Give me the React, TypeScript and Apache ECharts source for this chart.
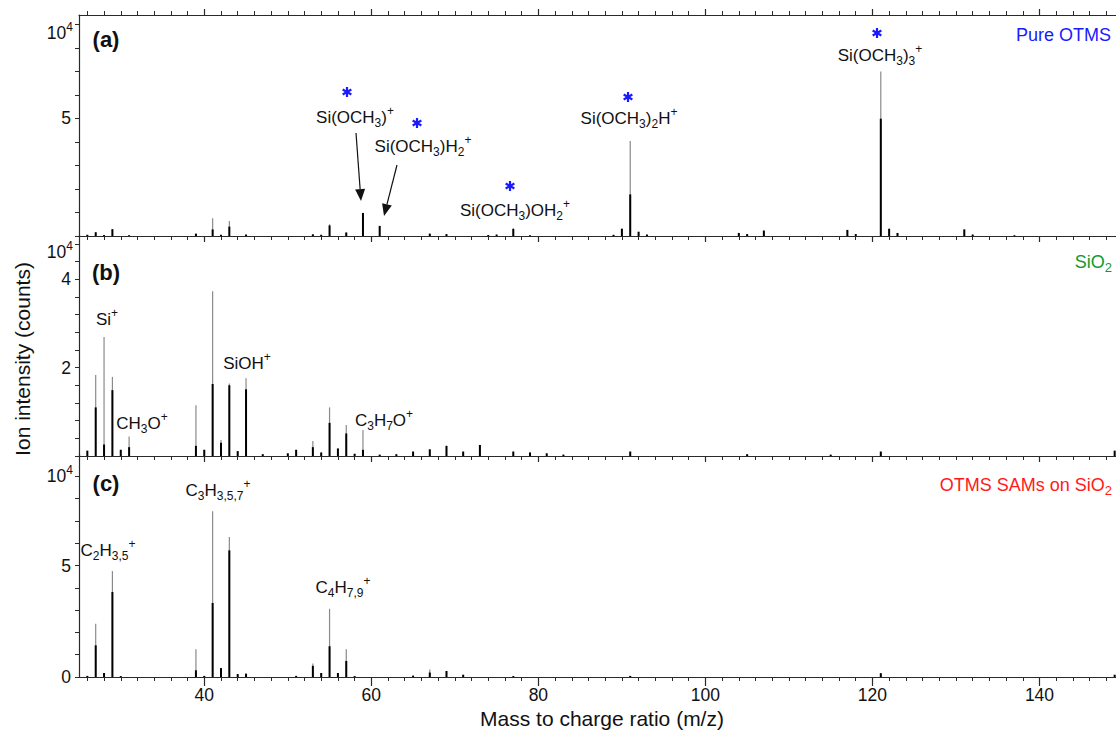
import React, { useEffect, useRef } from 'react';
import * as echarts from 'echarts';

const FONT = "'Liberation Sans', Arial, Helvetica, sans-serif";

// ---------- data (m/z, envelope height, core height) in axis units ----------
const mzA = [26, 27, 28, 29, 31, 39, 41, 42, 43, 45, 53, 54, 55, 57, 59, 61, 67, 69, 74, 75, 77, 79, 89, 90, 91, 92, 93, 104, 105, 107, 117, 118, 121, 122, 123, 131, 132, 137];
const greyA = [0.05, 0.16, 0.04, 0.29, 0.03, 0.1, 0.75, 0.05, 0.64, 0.06, 0.07, 0.05, 0.5, 0.15, 0.98, 0.43, 0.1, 0.08, 0.04, 0.06, 0.34, 0.03, 0.05, 0.31, 4.04, 0.18, 0.06, 0.13, 0.08, 0.23, 0.26, 0.08, 7.0, 0.34, 0.13, 0.28, 0.06, 0.03];
const blackA = [0.05, 0.16, 0.04, 0.29, 0.03, 0.1, 0.28, 0.05, 0.4, 0.06, 0.07, 0.05, 0.45, 0.15, 0.98, 0.43, 0.1, 0.08, 0.04, 0.06, 0.3, 0.03, 0.05, 0.31, 1.77, 0.18, 0.06, 0.13, 0.08, 0.23, 0.26, 0.08, 4.99, 0.3, 0.13, 0.28, 0.06, 0.03];

const mzB = [26, 27, 28, 29, 30, 31, 39, 40, 41, 42, 43, 44, 45, 47, 50, 51, 53, 54, 55, 56, 57, 58, 59, 61, 63, 65, 67, 69, 71, 73, 77, 79, 81, 83, 91, 105, 115, 121, 149];
const greyB = [0.12, 1.83, 2.69, 1.79, 0.14, 0.44, 1.15, 0.14, 3.73, 0.36, 1.64, 0.11, 1.76, 0.04, 0.06, 0.14, 0.34, 0.08, 1.1, 0.17, 0.7, 0.05, 0.59, 0.03, 0.04, 0.1, 0.15, 0.23, 0.1, 0.25, 0.1, 0.08, 0.06, 0.03, 0.1, 0.04, 0.03, 0.1, 0.12];
const blackB = [0.12, 1.1, 0.26, 1.49, 0.14, 0.2, 0.23, 0.14, 1.63, 0.3, 1.6, 0.11, 1.51, 0.04, 0.06, 0.14, 0.2, 0.08, 0.75, 0.17, 0.51, 0.05, 0.14, 0.03, 0.04, 0.1, 0.15, 0.23, 0.1, 0.25, 0.1, 0.08, 0.06, 0.03, 0.1, 0.04, 0.03, 0.1, 0.12];

const mzC = [26, 27, 28, 29, 30, 39, 40, 41, 42, 43, 44, 45, 51, 53, 54, 55, 56, 57, 58, 65, 67, 69, 71, 77, 91, 121, 149];
const greyC = [0.05, 2.39, 0.18, 4.75, 0.04, 1.24, 0.05, 7.43, 0.4, 6.28, 0.13, 0.15, 0.05, 0.6, 0.18, 3.06, 0.18, 1.24, 0.04, 0.06, 0.34, 0.27, 0.1, 0.04, 0.05, 0.17, 0.1];
const blackC = [0.05, 1.42, 0.18, 3.81, 0.04, 0.3, 0.05, 3.32, 0.4, 5.68, 0.13, 0.15, 0.05, 0.5, 0.18, 1.38, 0.18, 0.72, 0.04, 0.06, 0.2, 0.27, 0.1, 0.04, 0.05, 0.17, 0.1];

// ---------- axes ----------
const X_MIN = 25;
const X_MAX = 150;
const xMajor = [40, 60, 80, 100, 120, 140];
const xMinor: number[] = [];
for (let v = 26; v <= 150; v += 2) xMinor.push(v);

const yMaxA = 9.4;
const yMaxB = 5;
const yMaxC = 10;
const yTicksA = [0, 1, 2, 3, 4, 5, 6, 7, 8, 9];
const yLabelsA = [5];
const yTicksB = [0, 0.4, 0.8, 1.2, 1.6, 2, 2.4, 2.8, 3.2, 3.6, 4, 4.4, 4.8];
const yLabelsB = [2, 4];
const yTicksC = [0, 1, 2, 3, 4, 5, 6, 7, 8, 9];
const yLabelsC = [0, 5];

const AXIS_COLOR = '#2a2a2a';
const BLUE = '#1a1aff';

function toPairs(mz: number[], vals: number[]) {
  return mz.map((m, i) => [m, vals[i]]);
}

function stick(color: string, width: number) {
  return (params: any, api: any) => {
    const x = api.value(0);
    const y = api.value(1);
    const p0 = api.coord([x, 0]);
    const p1 = api.coord([x, y]);
    return {
      type: 'line',
      shape: { x1: p0[0], y1: p0[1], x2: p1[0], y2: p1[1] },
      style: { stroke: color, lineWidth: width },
    };
  };
}

const richBase = (color: string, size = 17) => ({
  n: { fontSize: size, fontFamily: FONT, fill: color, lineHeight: 24 },
  b: { fontSize: Math.round(size * 0.7), fontFamily: FONT, fill: color, verticalAlign: 'bottom' },
  p: { fontSize: Math.round(size * 0.7), fontFamily: FONT, fill: color, verticalAlign: 'top', lineHeight: 20 },
  e: { fontSize: Math.round(size * 0.7), fontFamily: FONT, fill: color, verticalAlign: 'top', lineHeight: 12 },
});

function formula(text: string, x: number, y: number, color = '#111', align = 'center', size = 17) {
  return {
    type: 'text',
    x,
    y,
    silent: true,
    style: {
      text,
      align,
      verticalAlign: 'middle',
      fill: color,
      font: `${size}px ${FONT}`,
      rich: richBase(color, size),
    },
  };
}

function plain(text: string, x: number, y: number, opts: any = {}) {
  return {
    type: 'text',
    x,
    y,
    rotation: opts.rotation || 0,
    silent: true,
    style: {
      text,
      align: opts.align || 'center',
      verticalAlign: 'middle',
      fill: opts.color || '#111',
      font: `${opts.weight || 'normal'} ${opts.size || 17}px ${FONT}`,
    },
  };
}

// six-armed asterisk marker
function star(x: number, y: number) {
  const r = 5;
  const lines = [0, 60, 120].map((deg) => {
    const a = (deg * Math.PI) / 180;
    const dx = Math.sin(a) * r;
    const dy = Math.cos(a) * r;
    return {
      type: 'line',
      silent: true,
      shape: { x1: -dx, y1: -dy, x2: dx, y2: dy },
      style: { stroke: BLUE, lineWidth: 2.2 },
    };
  });
  return { type: 'group', x, y, silent: true, children: lines };
}

function arrow(x0: number, y0: number, x1: number, y1: number) {
  const dx = x1 - x0;
  const dy = y1 - y0;
  const len = Math.sqrt(dx * dx + dy * dy);
  const ux = dx / len;
  const uy = dy / len;
  const hl = 12;
  const hw = 5;
  const bx = x1 - ux * hl;
  const by = y1 - uy * hl;
  return [
    { type: 'line', silent: true, shape: { x1: x0, y1: y0, x2: bx, y2: by }, style: { stroke: '#111', lineWidth: 1.2 } },
    {
      type: 'polygon',
      silent: true,
      shape: { points: [[x1, y1], [bx - uy * hw, by + ux * hw], [bx + uy * hw, by - ux * hw]] },
      style: { fill: '#111' },
    },
  ];
}

function xAxes(gridIndex: number, showLabels: boolean, majorLen: number, withTop: boolean) {
  const base = {
    gridIndex,
    type: 'value',
    min: X_MIN,
    max: X_MAX,
    splitLine: { show: false },
  };
  const res: any[] = [
    {
      ...base,
      position: 'bottom',
      axisLine: { show: true, onZero: false, lineStyle: { color: AXIS_COLOR, width: 1.2 } },
      axisTick: { show: true, customValues: xMajor, length: majorLen, lineStyle: { color: AXIS_COLOR, width: 1.2 } },
      axisLabel: {
        show: showLabels,
        customValues: xMajor,
        margin: 9,
        fontSize: 17.5,
        fontFamily: FONT,
        color: '#111',
      },
    },
    {
      ...base,
      position: 'bottom',
      axisLine: { show: false, onZero: false },
      axisTick: { show: true, customValues: xMinor, length: 4, lineStyle: { color: AXIS_COLOR, width: 1 } },
      axisLabel: { show: false },
    },
  ];
  if (withTop) {
    res.push(
      {
        ...base,
        position: 'top',
        axisLine: { show: true, onZero: false, lineStyle: { color: AXIS_COLOR, width: 1.2 } },
        axisTick: { show: true, customValues: xMajor, length: 6, lineStyle: { color: AXIS_COLOR, width: 1.2 } },
        axisLabel: { show: false },
      },
      {
        ...base,
        position: 'top',
        axisLine: { show: false, onZero: false },
        axisTick: { show: true, customValues: xMinor, length: 4, lineStyle: { color: AXIS_COLOR, width: 1 } },
        axisLabel: { show: false },
      }
    );
  }
  return res;
}

function yAxis(gridIndex: number, max: number, ticks: number[], labels: number[]) {
  return {
    gridIndex,
    type: 'value',
    min: 0,
    max,
    splitLine: { show: false },
    axisLine: { show: true, onZero: false, lineStyle: { color: AXIS_COLOR, width: 1.2 } },
    axisTick: { show: true, customValues: ticks, length: 4, lineStyle: { color: AXIS_COLOR, width: 1 } },
    axisLabel: {
      show: true,
      customValues: labels,
      margin: 8,
      fontSize: 17.5,
      fontFamily: FONT,
      color: '#111',
    },
  };
}

export default function App() {
  const ref = useRef<HTMLDivElement>(null);

  useEffect(() => {
    if (!ref.current) return;
    const chart = echarts.init(ref.current, null, { renderer: 'svg' });

    const graphics: any[] = [
      // panel tags
      plain('(a)', 106, 39, { size: 22, weight: 'bold' }),
      plain('(b)', 106, 272, { size: 22, weight: 'bold' }),
      plain('(c)', 106, 483, { size: 22, weight: 'bold' }),
      // exponent labels
      formula('{n|10}{e|4}', 73, 33, '#111', 'right', 17.5),
      formula('{n|10}{e|4}', 73, 252, '#111', 'right', 17.5),
      formula('{n|10}{e|4}', 73, 476, '#111', 'right', 17.5),
      // sample names
      plain('Pure OTMS', 1111, 35, { color: BLUE, size: 18, align: 'right' }),
      formula('{n|SiO}{b|2}', 1112, 262, '#12992e', 'right', 18),
      formula('{n|OTMS SAMs on SiO}{b|2}', 1112, 485, '#ff1a1a', 'right', 18),
      // panel (a) annotations
      star(347, 92),
      star(417, 123),
      star(510, 186),
      star(628, 97),
      star(877, 33),
      formula('{n|Si(OCH}{b|3}{n|)}{p|+}', 355, 117),
      formula('{n|Si(OCH}{b|3}{n|)H}{b|2}{p|+}', 423, 146),
      formula('{n|Si(OCH}{b|3}{n|)OH}{b|2}{p|+}', 515, 210),
      formula('{n|Si(OCH}{b|3}{n|)}{b|2}{n|H}{p|+}', 629, 118),
      formula('{n|Si(OCH}{b|3}{n|)}{b|3}{p|+}', 880, 55),
      ...arrow(356, 133, 361, 201),
      ...arrow(397, 165, 384, 216),
      // panel (b) annotations
      formula('{n|Si}{p|+}', 107, 319),
      formula('{n|CH}{b|3}{n|O}{p|+}', 142, 423),
      formula('{n|SiOH}{p|+}', 247, 363),
      formula('{n|C}{b|3}{n|H}{b|7}{n|O}{p|+}', 384, 420),
      // panel (c) annotations
      formula('{n|C}{b|3}{n|H}{b|3,5,7}{p|+}', 218, 490),
      formula('{n|C}{b|2}{n|H}{b|3,5}{p|+}', 108, 550),
      formula('{n|C}{b|4}{n|H}{b|7,9}{p|+}', 343, 587),
      // axis titles
      plain('Mass to charge ratio (m/z)', 602, 718, { size: 21 }),
      plain('Ion intensity (counts)', 22, 359, { size: 21, rotation: Math.PI / 2 }),
    ];

    const option: any = {
      animation: false,
      backgroundColor: '#ffffff',
      grid: [
        { left: 79, top: 15, width: 1044, height: 221 },
        { left: 79, top: 235, width: 1044, height: 221 },
        { left: 79, top: 454, width: 1044, height: 223 },
      ],
      xAxis: [
        ...xAxes(0, false, 6, true), // 0..3
        ...xAxes(1, false, 6, false), // 4,5
        ...xAxes(2, true, 9, false), // 6,7
      ],
      yAxis: [
        yAxis(0, yMaxA, yTicksA, yLabelsA),
        yAxis(1, yMaxB, yTicksB, yLabelsB),
        yAxis(2, yMaxC, yTicksC, yLabelsC),
      ],
      series: [
        { type: 'custom', name: 'Pure OTMS env', xAxisIndex: 0, yAxisIndex: 0, encode: { x: 0, y: 1 }, renderItem: stick('#8a8a8a', 1.2), data: toPairs(mzA, greyA) },
        { type: 'custom', name: 'Pure OTMS', xAxisIndex: 0, yAxisIndex: 0, encode: { x: 0, y: 1 }, renderItem: stick('#000000', 2), data: toPairs(mzA, blackA) },
        { type: 'custom', name: 'SiO2 env', xAxisIndex: 4, yAxisIndex: 1, encode: { x: 0, y: 1 }, renderItem: stick('#8a8a8a', 1.2), data: toPairs(mzB, greyB) },
        { type: 'custom', name: 'SiO2', xAxisIndex: 4, yAxisIndex: 1, encode: { x: 0, y: 1 }, renderItem: stick('#000000', 2), data: toPairs(mzB, blackB) },
        { type: 'custom', name: 'SAM env', xAxisIndex: 6, yAxisIndex: 2, encode: { x: 0, y: 1 }, renderItem: stick('#8a8a8a', 1.2), data: toPairs(mzC, greyC) },
        { type: 'custom', name: 'SAM', xAxisIndex: 6, yAxisIndex: 2, encode: { x: 0, y: 1 }, renderItem: stick('#000000', 2), data: toPairs(mzC, blackC) },
      ],
      graphic: graphics,
    };

    chart.setOption(option);
    return () => chart.dispose();
  }, []);

  return (
    <div style={{ position: 'fixed', left: 0, top: 0, width: 1116, height: 736, overflow: 'hidden', background: '#fff' }}>
      <div ref={ref} style={{ width: 1130, height: 736 }} />
    </div>
  );
}
